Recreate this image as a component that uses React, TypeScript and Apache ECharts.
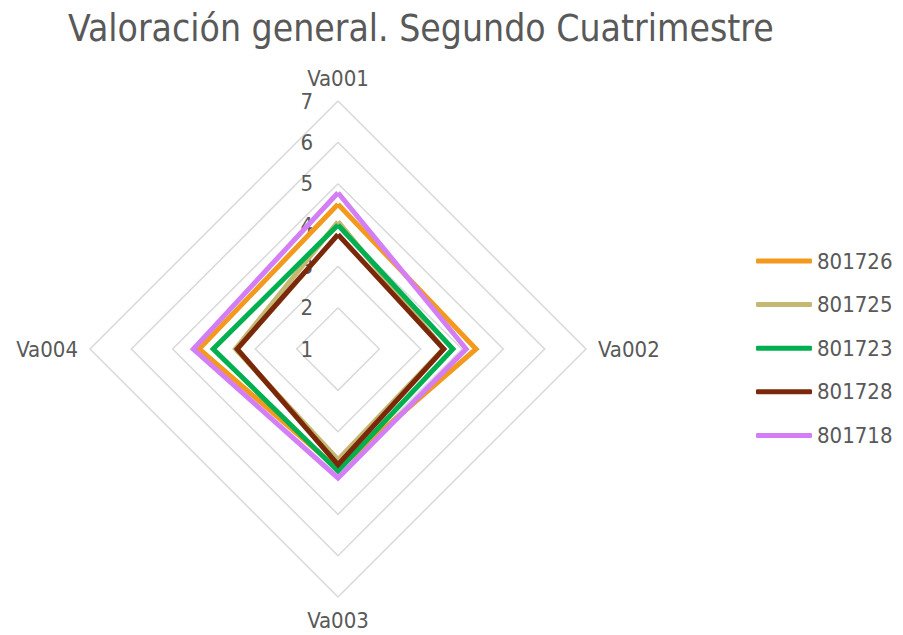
import React, { useEffect, useRef } from "react";
import * as echarts from "echarts";

const indicatorNames = ["Va001", "Va002", "Va003", "Va004"];
const seriesNames = ["801726", "801725", "801723", "801728", "801718"];
const seriesColors = ["#F39A1D", "#C4B873", "#00B050", "#7A2809", "#D47EF6"];
const values801726 = [4.5, 4.34, 3.9, 4.36];
const values801725 = [4.08, 3.55, 3.68, 3.48];
const values801723 = [4.0, 3.78, 3.95, 4.02];
const values801728 = [3.77, 3.56, 3.8, 3.44];
const values801718 = [4.78, 4.1, 4.12, 4.5];
const allValues = [values801726, values801725, values801723, values801728, values801718];
const axisMin = 1;
const axisMax = 7;

const FONT = "'DejaVu Sans Condensed', 'DejaVu Sans', sans-serif";
const GREY = "#595959";

// ECharts lays indicators counter-clockwise; the reference goes clockwise.
const order = [0, 3, 2, 1];

export default function App() {
  const ref = useRef<HTMLDivElement>(null);
  useEffect(() => {
    if (!ref.current) return;
    const chart = echarts.init(ref.current, undefined, { renderer: "svg" });
    chart.setOption({
      animation: false,
      backgroundColor: "#ffffff",
      title: {
        text: "Valoración general. Segundo Cuatrimestre",
        left: 63,
        top: 5,
        textStyle: { fontFamily: FONT, fontSize: 37, fontWeight: "normal", color: GREY },
      },
      legend: {
        orient: "vertical",
        left: 751,
        top: 245,
        itemWidth: 56,
        itemHeight: 5,
        itemGap: 21.6,
        icon: "roundRect",
        textStyle: { fontFamily: FONT, fontSize: 22, color: GREY },
        data: seriesNames,
      },
      radar: {
        center: [338, 349],
        radius: 248,
        startAngle: 90,
        shape: "polygon",
        splitNumber: 6,
        axisName: { color: GREY, fontFamily: FONT, fontSize: 22 },
        nameGap: 12,
        axisLine: { show: false },
        axisTick: { show: false },
        splitLine: { lineStyle: { color: "#D9D9D9", width: 1.5 } },
        splitArea: { show: false },
        axisLabel: { show: false },
        indicator: order.map((i) => ({
          name: indicatorNames[i],
          min: axisMin,
          max: axisMax,
          axisLabel: i === 0
            ? { show: true, color: GREY, fontFamily: FONT, fontSize: 22, margin: 25 }
            : { show: false },
        })),
      },
      series: [
        {
          type: "radar",
          symbol: "none",
          data: seriesNames.map((name, k) => ({
            name,
            value: order.map((i) => allValues[k][i]),
            lineStyle: { color: seriesColors[k], width: 5, join: "miter" },
            itemStyle: { color: seriesColors[k] },
          })),
        },
      ],
    });
    return () => chart.dispose();
  }, []);
  return (
    <div
      ref={ref}
      style={{ position: "fixed", left: 0, top: 0, width: 903, height: 635 }}
    />
  );
}
